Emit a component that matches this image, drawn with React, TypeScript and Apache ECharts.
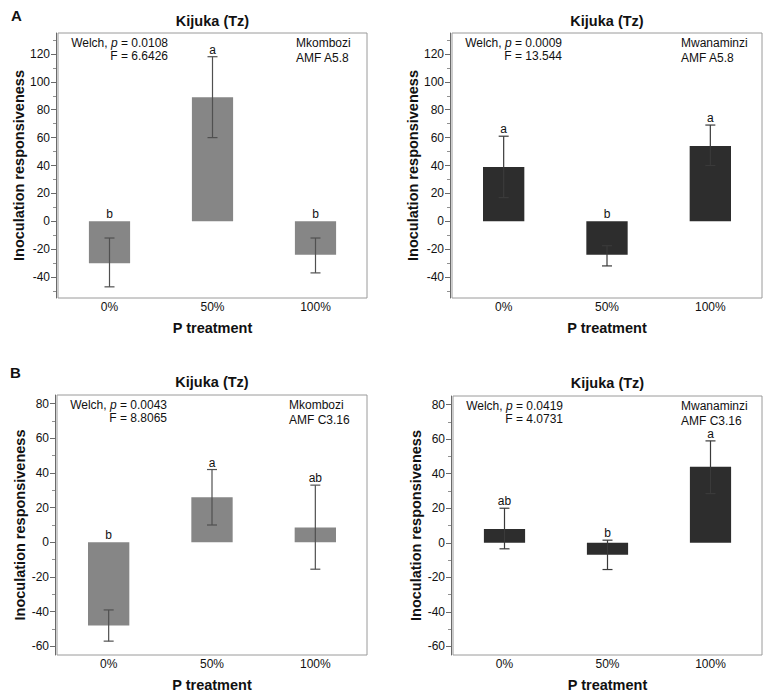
import React, { useEffect, useRef } from "react";
import * as echarts from "echarts";

const categories = ["0%", "50%", "100%"];

const yMajorA = [-40, -20, 0, 20, 40, 60, 80, 100, 120];
const yMinorA = [-50, -30, -10, 10, 30, 50, 70, 90, 110, 130];
const yMajorB = [-60, -40, -20, 0, 20, 40, 60, 80];
const yMinorB = [-50, -30, -10, 10, 30, 50, 70];

// Panel A left – Mkombozi, AMF A5.8
const aLeftMean = [-30, 89, -24];
const aLeftLow = [-47, 60, -37];
const aLeftHigh = [-12, 118, -12];
const aLeftLetters = ["b", "a", "b"];

// Panel A right – Mwanaminzi, AMF A5.8
const aRightMean = [39, -24, 54];
const aRightLow = [17, -32, 40];
const aRightHigh = [61, -17.5, 69];
const aRightLetters = ["a", "b", "a"];

// Panel B left – Mkombozi, AMF C3.16
const bLeftMean = [-48, 26, 8.5];
const bLeftLow = [-57, 10, -15.5];
const bLeftHigh = [-39, 42, 33];
const bLeftLetters = ["b", "a", "ab"];

// Panel B right – Mwanaminzi, AMF C3.16
const bRightMean = [8, -7, 44];
const bRightLow = [-3.5, -15.5, 28.5];
const bRightHigh = [20, 1.5, 59];
const bRightLetters = ["ab", "b", "a"];

const titleText = "Kijuka (Tz)";
const yName = "Inoculation responsiveness";
const xName = "P treatment";

const FONT = "'Liberation Sans', Arial, Helvetica, sans-serif";
const LIGHT = "#868686";
const DARK = "#2d2d2d";

const panels = [
  {
    mean: aLeftMean, low: aLeftLow, high: aLeftHigh, letters: aLeftLetters,
    welch: "0.0108", F: "6.6426", cultivar: "Mkombozi", amf: "AMF A5.8",
    min: -55, max: 135, major: yMajorA, minor: yMinorA, color: LIGHT, err: "#505050",
    grid: { left: 58, top: 33, width: 309, height: 265 }, cultX: 296, titleY: 21, nameGap: 29,
  },
  {
    mean: aRightMean, low: aRightLow, high: aRightHigh, letters: aRightLetters,
    welch: "0.0009", F: "13.544", cultivar: "Mwanaminzi", amf: "AMF A5.8",
    min: -55, max: 135, major: yMajorA, minor: yMinorA, color: DARK, err: "#3a3a3a",
    grid: { left: 452, top: 33, width: 310, height: 265 }, cultX: 681, titleY: 21, nameGap: 29,
  },
  {
    mean: bLeftMean, low: bLeftLow, high: bLeftHigh, letters: bLeftLetters,
    welch: "0.0043", F: "8.8065", cultivar: "Mkombozi", amf: "AMF C3.16",
    min: -65, max: 85, major: yMajorB, minor: yMinorB, color: LIGHT, err: "#505050",
    grid: { left: 57, top: 395, width: 310, height: 266 }, cultX: 289, titleY: 382, nameGap: 27,
  },
  {
    mean: bRightMean, low: bRightLow, high: bRightHigh, letters: bRightLetters,
    welch: "0.0419", F: "4.0731", cultivar: "Mwanaminzi", amf: "AMF C3.16",
    min: -65, max: 85, major: yMajorB, minor: yMinorB, color: DARK, err: "#3a3a3a",
    grid: { left: 453, top: 396, width: 309, height: 266 }, cultX: 681, titleY: 383, nameGap: 28,
  },
];

function buildOption() {
  const grid: any[] = [];
  const xAxis: any[] = [];
  const yAxis: any[] = [];
  const series: any[] = [];
  const graphic: any[] = [];

  panels.forEach((p, i) => {
    grid.push({
      ...p.grid,
      show: true,
      borderColor: "#9a9a9a",
      borderWidth: 1,
      backgroundColor: "transparent",
      containLabel: false,
    });
    xAxis.push({
      type: "category",
      gridIndex: i,
      data: categories,
      axisLine: { show: false },
      axisTick: { show: false },
      axisLabel: { color: "#111", fontSize: 12, fontFamily: FONT, margin: 3 },
      name: xName,
      nameLocation: "middle",
      nameGap: 22,
      nameTextStyle: { color: "#111", fontSize: 14.5, fontWeight: "bold", fontFamily: FONT },
      splitLine: { show: false },
    });
    yAxis.push({
      type: "value",
      gridIndex: i,
      min: p.min,
      max: p.max,
      position: "left",
      offset: 2,
      axisLine: { show: true, lineStyle: { color: "#6a6a6a", width: 1 } },
      axisTick: { show: true, length: 5, customValues: p.major, lineStyle: { color: "#6a6a6a" } },
      axisLabel: { customValues: p.major, color: "#111", fontSize: 12, fontFamily: FONT, margin: 6 },
      splitLine: { show: false },
      name: yName,
      nameLocation: "middle",
      nameGap: p.nameGap,
      nameTextStyle: { color: "#111", fontSize: 14.5, fontWeight: "bold", fontFamily: FONT },
    });
    yAxis.push({
      type: "value",
      gridIndex: i,
      min: p.min,
      max: p.max,
      position: "left",
      offset: 2,
      axisLine: { show: false },
      axisTick: { show: true, length: 3, customValues: p.minor, lineStyle: { color: "#909090" } },
      axisLabel: { show: false },
      splitLine: { show: false },
    });

    series.push({
      type: "bar",
      xAxisIndex: i,
      yAxisIndex: 2 * i,
      data: p.mean,
      barWidth: "40%",
      itemStyle: { color: p.color },
      silent: true,
    });

    const errData = p.mean.map((_, k) => [k, p.low[k], p.high[k], Math.max(0, p.high[k])]);
    const letters = p.letters;
    const errColor = p.err;
    series.push({
      type: "custom",
      xAxisIndex: i,
      yAxisIndex: 2 * i,
      data: errData,
      silent: true,
      z: 5,
      renderItem: (params: any, api: any) => {
        const x = api.value(0);
        const lo = api.coord([x, api.value(1)]);
        const hi = api.coord([x, api.value(2)]);
        const lt = api.coord([x, api.value(3)]);
        const w = 5;
        const st = { stroke: errColor, lineWidth: 1.2 };
        return {
          type: "group",
          children: [
            { type: "line", shape: { x1: lo[0], y1: lo[1], x2: hi[0], y2: hi[1] }, style: st },
            { type: "line", shape: { x1: hi[0] - w, y1: hi[1], x2: hi[0] + w, y2: hi[1] }, style: st },
            { type: "line", shape: { x1: lo[0] - w, y1: lo[1], x2: lo[0] + w, y2: lo[1] }, style: st },
            {
              type: "text",
              x: lt[0],
              y: lt[1] - 7,
              style: {
                text: letters[params.dataIndex],
                textAlign: "center",
                textVerticalAlign: "middle",
                fontSize: 12,
                fontFamily: FONT,
                fill: "#111",
              },
            },
          ],
        };
      },
    });

    const g = p.grid;
    graphic.push({
      type: "text",
      x: g.left + g.width / 2,
      y: p.titleY,
      style: {
        text: titleText,
        textAlign: "center",
        textVerticalAlign: "middle",
        fontSize: 14.5,
        fontWeight: "bold",
        fontFamily: FONT,
        fill: "#111",
      },
    });
    graphic.push({
      type: "text",
      x: g.left + 110,
      y: g.top + 10,
      style: {
        text: "Welch, {i|p} = " + p.welch,
        rich: { i: { fontStyle: "italic", fontSize: 12, fontFamily: FONT, fill: "#111" } },
        textAlign: "right",
        textVerticalAlign: "middle",
        fontSize: 12,
        fontFamily: FONT,
        fill: "#111",
      },
    });
    graphic.push({
      type: "text",
      x: g.left + 110,
      y: g.top + 22.5,
      style: {
        text: "F = " + p.F,
        textAlign: "right",
        textVerticalAlign: "middle",
        fontSize: 12,
        fontFamily: FONT,
        fill: "#111",
      },
    });
    graphic.push({
      type: "text",
      x: p.cultX,
      y: g.top + 10,
      style: {
        text: p.cultivar,
        textAlign: "left",
        textVerticalAlign: "middle",
        fontSize: 12,
        fontFamily: FONT,
        fill: "#111",
      },
    });
    graphic.push({
      type: "text",
      x: p.cultX,
      y: g.top + 25,
      style: {
        text: p.amf,
        textAlign: "left",
        textVerticalAlign: "middle",
        fontSize: 12,
        fontFamily: FONT,
        fill: "#111",
      },
    });
  });

  graphic.push({
    type: "text",
    x: 11,
    y: 15,
    style: { text: "A", textVerticalAlign: "middle", fontSize: 15, fontWeight: "bold", fontFamily: FONT, fill: "#111" },
  });
  graphic.push({
    type: "text",
    x: 10,
    y: 372,
    style: { text: "B", textVerticalAlign: "middle", fontSize: 15, fontWeight: "bold", fontFamily: FONT, fill: "#111" },
  });

  return {
    animation: false,
    backgroundColor: "#ffffff",
    grid,
    xAxis,
    yAxis,
    series,
    graphic,
  };
}

export default function App() {
  const ref = useRef<HTMLDivElement>(null);
  useEffect(() => {
    if (!ref.current) return;
    const chart = echarts.init(ref.current, undefined, { renderer: "svg" });
    chart.setOption(buildOption() as any);
    return () => chart.dispose();
  }, []);
  return (
    <div
      ref={ref}
      style={{ position: "absolute", left: 0, top: 0, width: 767, height: 693, background: "#fff" }}
    />
  );
}
